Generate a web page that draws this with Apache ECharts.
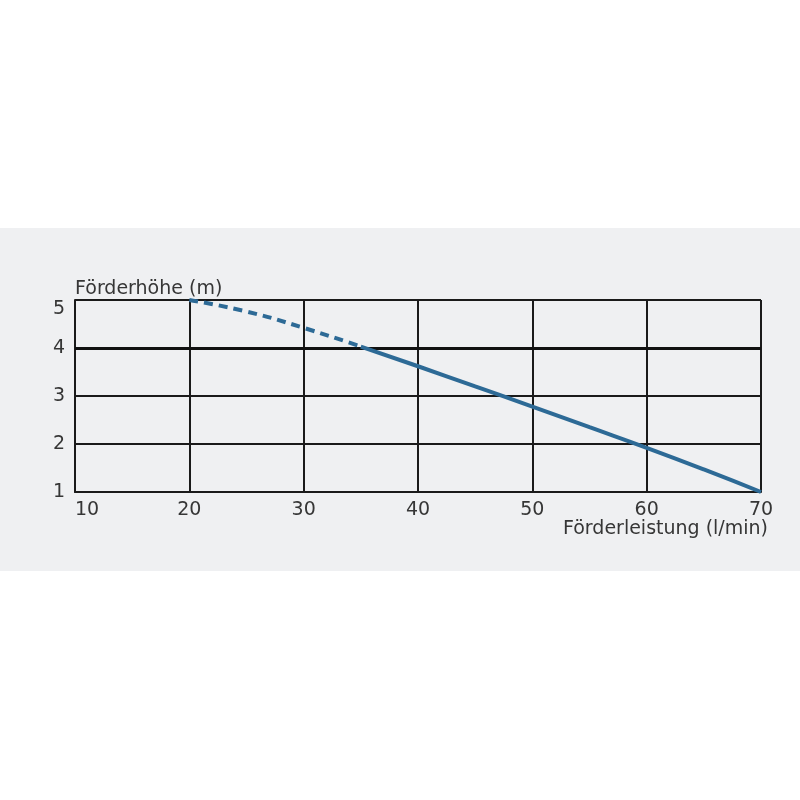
<!DOCTYPE html>
<html><head><meta charset="utf-8">
<script src="https://cdn.jsdelivr.net/npm/echarts@6/dist/echarts.min.js"></script>
<style>html,body{margin:0;padding:0;background:#fff;}#c{width:800px;height:800px;}</style>
</head><body><div id="c"></div>
<script>
const xTicks = [10, 20, 30, 40, 50, 60, 70];
const yTicks = [1, 2, 3, 4, 5];
const flow = [20, 25, 30, 35, 40, 45, 50, 55, 60, 65, 70];
const head = [5.0, 4.76, 4.42, 4.03, 3.62, 3.2, 2.78, 2.35, 1.92, 1.47, 1.0];
const dashedUntil = 35;
const yAxisTitle = 'Förderhöhe (m)';
const xAxisTitle = 'Förderleistung (l/min)';

const pts = flow.map((f, i) => [f, head[i]]);
const dashedPts = pts.filter(p => p[0] <= dashedUntil);
const solidPts = pts.filter(p => p[0] >= dashedUntil);

const font = 'DejaVu Sans';
const fs = 19;
const chart = echarts.init(document.getElementById('c'));
chart.setOption({
  animation: false,
  backgroundColor: '#ffffff',
  graphic: [{ type: 'rect', z: -100, silent: true, shape: { x: 0, y: 228, width: 800, height: 343 }, style: { fill: '#eff0f2' } }],
  grid: { left: 75, right: 39, top: 300, bottom: 308, containLabel: false },
  xAxis: {
    type: 'value', min: xTicks[0], max: xTicks[xTicks.length - 1], interval: 10,
    name: xAxisTitle, nameLocation: 'end', nameGap: 7,
    nameTextStyle: { fontFamily: font, fontSize: fs, color: '#363636', align: 'right', verticalAlign: 'top', padding: [28, 0, 0, 0] },
    axisLine: { show: true, lineStyle: { color: '#1a1a1a', width: 2 } },
    axisTick: { show: false },
    axisLabel: { fontFamily: font, fontSize: fs, color: '#363636', margin: 9, alignMinLabel: 'left' },
    splitLine: { show: true, lineStyle: { color: '#1a1a1a', width: 2 } }
  },
  yAxis: {
    type: 'value', min: yTicks[0], max: yTicks[yTicks.length - 1], interval: 1,
    name: yAxisTitle, nameLocation: 'end', nameGap: 1,
    nameTextStyle: { fontFamily: font, fontSize: fs, color: '#363636', align: 'left' },
    axisLine: { show: true, lineStyle: { color: '#1a1a1a', width: 2 } },
    axisTick: { show: false },
    axisLabel: { fontFamily: font, fontSize: fs, color: '#363636', margin: 10, verticalAlignMaxLabel: 'top' },
    splitLine: { show: true, lineStyle: { color: '#1a1a1a', width: 2 } }
  },
  series: [
    {
      type: 'line', data: dashedPts, smooth: true, symbol: 'none', z: 5,
      lineStyle: { color: '#2d6a96', width: 4, type: [9, 6] },
      markLine: { silent: true, symbol: 'none', label: { show: false }, z: 3,
        lineStyle: { color: '#111', width: 3, type: 'solid' }, data: [{ yAxis: 4 }] }
    },
    {
      type: 'line', data: solidPts, smooth: true, symbol: 'none', z: 5,
      lineStyle: { color: '#2d6a96', width: 4, type: 'solid' }
    }
  ]
});
</script></body></html>
